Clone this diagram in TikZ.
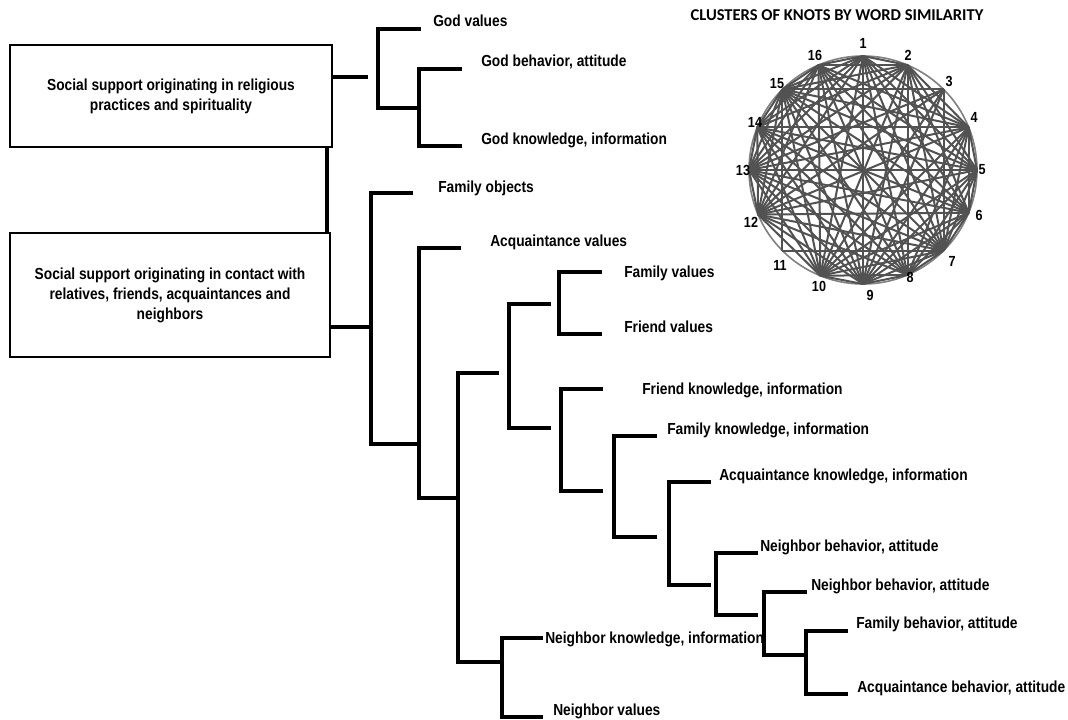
\documentclass[tikz,border=0pt]{standalone}
\usepackage{fontspec}
\setmainfont{Liberation Sans}
\newfontfamily\labfont[FakeStretch=0.86]{Liberation Sans}
\newfontfamily\titlefont{Carlito}
\begin{document}
\begin{tikzpicture}[x=0.75pt,y=-0.75pt,
  dg/.style={line width=2.8pt, line join=miter},
  bx/.style={draw, line width=2.2pt, inner sep=0pt, outer sep=0pt, align=center,
    font=\labfont\bfseries\fontsize{12}{15}\selectfont},
  lab/.style={anchor=west, inner sep=0pt, text height=8.6pt, text depth=0pt,
    font=\labfont\bfseries\fontsize{12}{15}\selectfont},
  num/.style={inner sep=0pt, font=\labfont\bfseries\fontsize{11}{12}\selectfont},
  edge/.style={draw=black!68, line width=1.5pt},
]
\useasboundingbox (0,0) rectangle (1068,719);

% ---------- boxes ----------
\node[bx, minimum width=241.5pt, minimum height=76.5pt] (b1) at (171,96)
  {Social support originating in religious\\practices and spirituality};
\node[bx, minimum width=240pt, minimum height=93pt] (b2) at (170,295)
  {Social support originating in contact with\\relatives, friends, acquaintances and\\neighbors};
\coordinate (vj) at (327,147);
\draw[dg] (vj |- b1.south) -- (vj |- b2.north);

% ---------- labels ----------
\node[lab] (l1)  at (433,21)  {God values};
\node[lab] (l2)  at (481,61)  {God behavior, attitude};
\node[lab] (l3)  at (481,139) {God knowledge, information};
\node[lab] (l4)  at (438,187) {Family objects};
\node[lab] (l5)  at (490,241) {Acquaintance values};
\node[lab] (l6)  at (624,272) {Family values};
\node[lab] (l7)  at (624,327) {Friend values};
\node[lab] (l8)  at (642,389) {Friend knowledge, information};
\node[lab] (l9)  at (667,429) {Family knowledge, information};
\node[lab] (l10) at (719,475) {Acquaintance knowledge, information};
\node[lab] (l11) at (760,546) {Neighbor behavior, attitude};
\node[lab] (l12) at (811,585) {Neighbor behavior, attitude};
\node[lab] (l13) at (856,623) {Family behavior, attitude};
\node[lab] (l14) at (857,687) {Acquaintance behavior, attitude};
\node[lab] (l15) at (545,638) {Neighbor knowledge, information};
\node[lab] (l16) at (553,710) {Neighbor values};

% ---------- dendrogram coordinates ----------
\coordinate (gA) at (368,77);
\coordinate (gT) at (421,29);  \coordinate (gJ) at (378,77);
\coordinate (g2J) at (419,108); \coordinate (g2T) at (462,69); \coordinate (g2B) at (462,146);
\coordinate (fJ) at (371,327); \coordinate (fT) at (413,193);
\coordinate (aJ) at (419,444); \coordinate (aT) at (461,248);
\coordinate (bJ) at (458,498); \coordinate (bT) at (499,373);
\coordinate (cJ) at (509,373); \coordinate (cT) at (551,304); \coordinate (cB) at (551,428);
\coordinate (dJ) at (559,304); \coordinate (dT) at (602,272); \coordinate (dB) at (602,334);
\coordinate (eJ) at (561,428); \coordinate (eT) at (603,389); \coordinate (eB) at (603,491);
\coordinate (hJ) at (614,491); \coordinate (hT) at (657,436); \coordinate (hB) at (657,537);
\coordinate (iJ) at (669,537); \coordinate (iT) at (711,482); \coordinate (iB) at (711,585);
\coordinate (jJ) at (716,585); \coordinate (jT) at (758,553); \coordinate (jB) at (758,615);
\coordinate (kJ) at (764,615); \coordinate (kT) at (807,592);
\coordinate (lJ) at (806,655); \coordinate (lT) at (848,631); \coordinate (lB) at (848,694);
\coordinate (mJ) at (502,662); \coordinate (mT) at (543,638); \coordinate (mB) at (543,717);

% ---------- dendrogram ----------
\draw[dg] (b1.east |- gA) -- (gA);
\draw[dg] (gT) -| (gJ) |- (g2J);
\draw[dg] (g2T) -| (g2J) |- (g2B);
\draw[dg] (b2.east |- fJ) -- (fJ);
\draw[dg] (fT) -| (fJ) |- (aJ);
\draw[dg] (aT) -| (aJ) |- (bJ);
\draw[dg] (bT) -| (bJ) |- (mJ);
\draw[dg] (cT) -| (cJ) |- (cB);
\draw[dg] (dT) -| (dJ) |- (dB);
\draw[dg] (eT) -| (eJ) |- (eB);
\draw[dg] (hT) -| (hJ) |- (hB);
\draw[dg] (iT) -| (iJ) |- (iB);
\draw[dg] (jT) -| (jJ) |- (jB);
\draw[dg] (kT) -| (kJ) |- (lJ);
\draw[dg] (lT) -| (lJ) |- (lB);
\draw[dg] (mT) -| (mJ) |- (mB);

% ---------- circle graph ----------
\node[font=\titlefont\bfseries\fontsize{12.4}{14}\selectfont, inner sep=0pt] (title) at (837,15)
  {CLUSTERS OF KNOTS BY WORD SIMILARITY};
\node[circle, draw=black!50, line width=1.2pt, inner sep=0pt, outer sep=0pt,
  minimum size=171pt] (ring) at (863,170) {};
\foreach \i in {1,...,16} {
  \pgfmathsetmacro{\ang}{90-(\i-1)*22.5}
  \coordinate (k\i) at (ring.\ang);
}
\foreach \i in {1,2,4,5,6,7,8,9,10,12,13,14,15,16} {
  \foreach \j in {1,2,4,5,6,7,8,9,10,12,13,14,15,16} {
    \ifnum\i<\j \draw[edge] (k\i) -- (k\j); \fi
  }
}
\foreach \j in {7,9,10,12,13,15} { \draw[edge] (k3) -- (k\j); }
\draw[edge] (k11) -- (k7);
\draw[edge] (k11) -- (k15);

\node[num] (n1)  at (863,43)  {1};
\node[num] (n2)  at (908,55)  {2};
\node[num] (n3)  at (949,81)  {3};
\node[num] (n4)  at (974,117) {4};
\node[num] (n5)  at (982,170) {5};
\node[num] (n6)  at (979,215) {6};
\node[num] (n7)  at (952,261) {7};
\node[num] (n8)  at (910,277) {8};
\node[num] (n9)  at (870,295) {9};
\node[num] (n10) at (819,286) {10};
\node[num] (n11) at (780,265) {11};
\node[num] (n12) at (751,222) {12};
\node[num] (n13) at (743,170) {13};
\node[num] (n14) at (755,122) {14};
\node[num] (n15) at (777,84)  {15};
\node[num] (n16) at (815,55)  {16};
\end{tikzpicture}
\end{document}
